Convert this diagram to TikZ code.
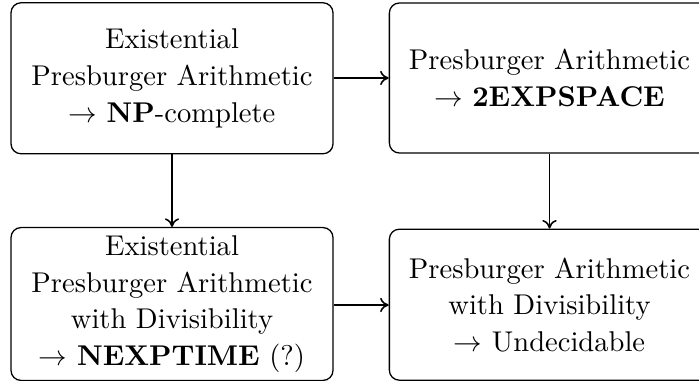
\documentclass[tikz,border=0pt]{standalone}
\usetikzlibrary{arrows.meta}
\begin{document}
\begin{tikzpicture}[x=0.35pt,y=-0.35pt,
  box/.style={draw,line width=0.45pt,rounded corners=3.5pt,align=center,inner sep=0pt,
    font=\fontsize{10}{12.8}\selectfont},
  conn/.style={line width=0.55pt,-{To[length=3pt,width=5pt]}}]
\useasboundingbox (0,0) rectangle (699,381);
\node[box,minimum width=112.7pt,minimum height=52.85pt] (tl) at (172,78.3)
  {Existential\\Presburger Arithmetic\\$\rightarrow$ \textbf{NP}-complete};
\node[box,minimum width=112.1pt,minimum height=52.5pt] (tr) at (549.5,78)
  {Presburger Arithmetic\\$\rightarrow$ \textbf{2EXPSPACE}};
\node[box,minimum width=112.7pt,minimum height=53.5pt] (bl) at (172,304)
  {Existential\\Presburger Arithmetic\\with Divisibility\\$\rightarrow$ \textbf{NEXPTIME} (?)};
\node[box,minimum width=112.1pt,minimum height=52.85pt] (br) at (549.5,304.7)
  {Presburger Arithmetic\\with Divisibility\\$\rightarrow$ Undecidable};
\draw[conn] (tl.east |- 0,78) -- (tr.west |- 0,78);
\draw[conn] (bl.east |- 0,305) -- (br.west |- 0,305);
\draw[conn] (tl) -- (bl);
\draw[conn] (tr) -- (br);
\end{tikzpicture}
\end{document}
